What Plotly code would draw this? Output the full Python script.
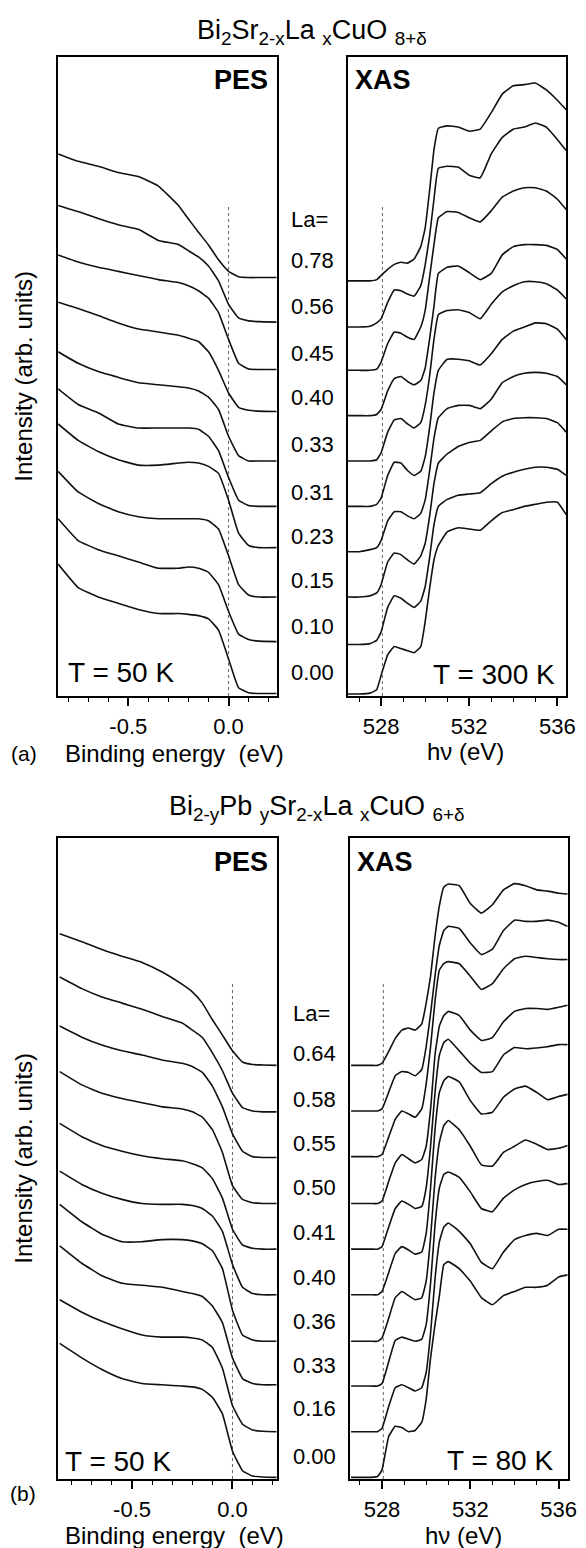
import plotly.graph_objects as go

# ---------------- data (arbitrary intensity units) ----------------
# (a) Bi2Sr2-xLaxCuO8+d  -- PES, T = 50 K
pes_a_energy = [-0.85, -0.75, -0.65, -0.55, -0.45, -0.35, -0.25, -0.20, -0.15, -0.10, -0.05, 0.00, 0.05, 0.10, 0.15, 0.24]
pes_a_la = ["0.78", "0.56", "0.45", "0.40", "0.33", "0.31", "0.23", "0.15", "0.10", "0.00"]
pes_a_078 = [131.5, 129.7, 128.5, 127.0, 126.0, 123.7, 119.0, 115.7, 112.5, 109.4, 105.8, 103.0, 101.7, 101.5, 101.5, 101.5]
pes_a_056 = [119.0, 117.5, 115.8, 114.3, 113.2, 110.5, 109.5, 108.0, 106.5, 104.3, 100.7, 95.0, 91.7, 91.0, 90.8, 90.7]
pes_a_045 = [107.0, 105.3, 104.0, 103.0, 102.0, 101.0, 100.3, 99.5, 98.3, 96.5, 93.0, 86.5, 80.7, 79.3, 79.2, 79.2]
pes_a_040 = [95.5, 94.0, 92.3, 90.5, 89.0, 88.3, 87.5, 86.8, 86.0, 83.5, 79.0, 73.5, 70.0, 69.3, 69.1, 69.0]
pes_a_033 = [83.5, 80.7, 78.7, 77.3, 76.0, 75.5, 75.0, 74.7, 74.0, 72.5, 69.5, 63.0, 58.3, 57.0, 57.0, 57.0]
pes_a_031 = [74.5, 70.7, 68.7, 66.0, 65.0, 65.0, 65.0, 65.0, 64.7, 63.0, 59.5, 53.0, 47.5, 46.2, 46.0, 46.0]
pes_a_023 = [66.0, 62.0, 59.3, 57.3, 56.0, 56.0, 56.5, 56.7, 56.5, 55.7, 54.0, 47.5, 39.5, 36.5, 36.0, 36.0]
pes_a_015 = [54.5, 49.5, 46.7, 44.7, 43.5, 43.0, 43.0, 43.0, 43.0, 42.5, 40.5, 34.0, 27.0, 24.5, 24.0, 24.0]
pes_a_010 = [43.0, 37.7, 35.5, 34.0, 32.5, 31.0, 31.0, 31.3, 31.0, 30.0, 27.0, 20.5, 15.0, 13.7, 13.3, 13.2]
pes_a_000 = [32.0, 26.3, 24.0, 22.5, 21.0, 20.0, 20.0, 19.8, 19.5, 18.7, 16.0, 9.0, 2.0, 0.8, 0.6, 0.6]

# (a) XAS, T = 300 K
xas_a_energy = [526.5, 527.0, 527.5, 527.8, 528.0, 528.3, 528.6, 528.9, 529.2, 529.5, 529.8, 530.0, 530.2, 530.4,
                530.6, 531.0, 531.5, 532.0, 532.5, 533.0, 533.5, 534.0, 534.5, 535.0, 535.5, 536.0, 536.4]
xas_a_078 = [100.7, 100.7, 100.7, 101.0, 102.0, 103.5, 104.7, 105.2, 105.0, 106.0, 109.0, 113.5, 122.5, 132.5,
             137.7, 138.3, 138.0, 137.0, 137.5, 141.5, 146.0, 148.0, 148.3, 148.7, 147.0, 144.5, 142.2]
xas_a_056 = [89.5, 89.5, 89.7, 90.5, 91.5, 95.5, 98.5, 98.3, 97.5, 97.0, 99.5, 104.5, 111.5, 120.5,
             128.0, 128.5, 128.3, 126.3, 125.7, 131.5, 135.5, 137.5, 138.0, 139.0, 138.0, 135.0, 132.3]
xas_a_045 = [79.0, 79.0, 79.0, 79.3, 81.0, 85.5, 88.3, 88.0, 87.0, 86.5, 89.5, 93.5, 101.5, 109.5,
             116.0, 117.5, 117.3, 116.0, 115.0, 117.7, 121.0, 122.5, 123.3, 123.3, 122.5, 120.5, 118.0]
xas_a_040 = [68.0, 68.0, 68.0, 68.3, 69.5, 74.0, 77.0, 77.5, 76.3, 75.5, 76.5, 79.5, 86.5, 94.5,
             102.5, 104.0, 104.3, 102.7, 101.0, 102.5, 107.0, 109.0, 109.5, 109.5, 109.3, 108.3, 106.0]
xas_a_033 = [57.0, 57.0, 57.0, 57.3, 59.0, 64.0, 67.0, 67.3, 66.0, 65.0, 66.3, 70.5, 77.5, 86.5,
             92.5, 93.5, 93.7, 93.0, 91.5, 95.0, 98.0, 99.5, 100.5, 100.5, 100.0, 98.5, 96.3]
xas_a_031 = [46.0, 46.0, 46.0, 46.5, 48.0, 53.5, 56.7, 56.5, 54.7, 53.5, 54.5, 58.0, 65.0, 73.5,
             79.0, 81.7, 81.7, 81.3, 80.3, 83.0, 86.5, 88.5, 89.5, 90.5, 90.3, 89.0, 86.5]
xas_a_023 = [35.0, 35.0, 35.5, 36.0, 37.7, 42.5, 44.7, 44.7, 43.7, 43.0, 44.3, 47.5, 54.5, 62.5,
             67.5, 69.7, 70.5, 70.5, 69.7, 72.0, 76.0, 77.5, 78.3, 78.5, 78.3, 77.5, 75.5]
xas_a_015 = [24.0, 24.0, 24.3, 25.0, 27.0, 32.5, 34.7, 34.3, 33.0, 32.0, 34.0, 37.0, 43.5, 51.5,
             56.5, 58.7, 60.5, 61.5, 62.0, 64.3, 66.5, 67.3, 67.5, 67.5, 67.3, 66.3, 64.0]
xas_a_010 = [12.5, 12.5, 12.7, 13.5, 15.5, 21.5, 24.3, 23.7, 22.5, 21.5, 23.0, 26.5, 33.5, 41.5,
             46.0, 47.7, 48.7, 49.0, 49.3, 51.5, 53.3, 54.3, 55.0, 55.5, 55.5, 55.0, 53.5]
xas_a_000 = [0.5, 0.5, 0.7, 1.5, 5.0, 10.0, 12.0, 11.5, 11.0, 10.5, 12.0, 18.0, 26.0, 33.0,
             36.5, 39.8, 40.8, 40.5, 40.2, 42.5, 44.5, 45.2, 46.0, 46.5, 47.0, 47.0, 44.0]

# (b) Bi2-yPbySr2-xLaxCuO6+d -- PES, T = 50 K
pes_b_energy = [-0.86, -0.75, -0.65, -0.55, -0.45, -0.35, -0.25, -0.20, -0.15, -0.10, -0.05, 0.00, 0.05, 0.10, 0.15, 0.22]
pes_b_la = ["0.64", "0.58", "0.55", "0.50", "0.41", "0.40", "0.36", "0.33", "0.16", "0.00"]
pes_b_064 = [131.4, 129.5, 127.6, 126.0, 124.5, 122.2, 119.2, 117.4, 114.7, 110.7, 107.0, 103.2, 100.5, 99.9, 99.8, 99.7]
pes_b_058 = [121.0, 118.2, 116.2, 114.7, 113.2, 111.5, 109.9, 108.2, 106.4, 102.7, 98.4, 93.0, 89.5, 88.7, 88.5, 88.5]
pes_b_055 = [109.2, 106.5, 104.6, 103.2, 102.2, 101.0, 100.2, 99.4, 98.0, 94.7, 89.7, 83.2, 79.0, 77.7, 77.5, 77.5]
pes_b_050 = [98.2, 95.0, 93.0, 91.7, 90.7, 89.7, 89.2, 88.5, 87.2, 84.2, 78.7, 70.7, 67.4, 66.6, 66.4, 66.4]
pes_b_041 = [85.7, 82.5, 80.4, 79.0, 77.9, 77.2, 76.7, 76.0, 75.0, 72.4, 67.7, 60.2, 56.4, 55.6, 55.4, 55.4]
pes_b_040 = [74.2, 71.0, 68.9, 67.4, 66.4, 66.2, 66.2, 65.9, 65.2, 63.4, 59.7, 51.7, 46.2, 44.7, 44.4, 44.4]
pes_b_036 = [66.2, 62.0, 59.0, 57.2, 57.2, 57.7, 57.7, 57.4, 56.7, 55.0, 50.7, 40.7, 34.7, 33.5, 33.2, 33.2]
pes_b_033 = [56.2, 52.0, 49.0, 47.2, 46.7, 46.2, 45.2, 44.7, 44.0, 41.7, 37.7, 29.2, 24.2, 23.0, 22.7, 22.7]
pes_b_016 = [43.2, 40.2, 38.0, 36.2, 34.7, 34.2, 34.2, 34.0, 33.5, 31.7, 26.7, 17.7, 13.2, 11.8, 11.5, 11.4]
pes_b_000 = [32.7, 29.2, 26.4, 24.2, 23.0, 22.7, 22.4, 22.2, 21.6, 19.7, 15.7, 6.7, 2.0, 0.7, 0.5, 0.4]

# (b) XAS, T = 80 K
xas_b_energy = [526.6, 527.0, 527.5, 527.8, 528.0, 528.3, 528.6, 528.9, 529.2, 529.5, 529.8, 530.0, 530.2, 530.4,
                530.6, 530.8, 531.0, 531.5, 532.0, 532.5, 533.0, 533.5, 534.0, 534.5, 535.0, 535.5, 536.0, 536.4]
xas_b_064 = [99.7, 99.7, 99.7, 99.7, 100.2, 103.0, 106.2, 108.2, 108.7, 108.2, 109.7, 114.7, 121.2, 130.7,
             138.2, 142.7, 143.4, 143.0, 138.7, 136.4, 138.4, 142.0, 143.5, 143.0, 142.0, 141.7, 141.2, 141.0]
xas_b_058 = [88.7, 88.7, 88.7, 88.7, 89.2, 93.2, 97.2, 98.2, 98.0, 97.2, 98.7, 104.2, 112.2, 121.2,
             128.7, 132.2, 133.2, 132.7, 129.2, 126.4, 127.7, 132.2, 134.7, 134.4, 134.4, 134.7, 134.2, 133.2]
xas_b_055 = [77.7, 77.7, 77.7, 77.7, 78.2, 82.4, 86.7, 88.7, 88.0, 87.2, 89.2, 95.2, 104.2, 115.2,
             122.7, 124.2, 124.7, 124.2, 121.2, 118.0, 119.4, 123.0, 125.4, 126.0, 125.7, 125.4, 125.2, 125.2]
xas_b_050 = [66.4, 66.4, 66.4, 66.4, 67.0, 71.7, 76.2, 78.2, 77.2, 76.2, 77.0, 80.2, 89.2, 102.2,
             109.2, 111.7, 112.7, 111.7, 108.2, 105.7, 106.4, 110.2, 112.7, 113.4, 113.4, 113.2, 113.7, 114.2]
xas_b_041 = [55.4, 55.4, 55.4, 55.4, 56.0, 60.7, 65.2, 67.0, 66.2, 65.2, 65.7, 70.2, 80.2, 93.2,
             102.2, 105.2, 106.0, 103.2, 100.2, 98.0, 98.2, 102.2, 104.0, 103.7, 103.9, 104.2, 104.7, 104.7]
xas_b_040 = [44.4, 44.4, 44.4, 44.4, 45.2, 49.7, 54.4, 56.0, 55.2, 54.2, 54.7, 59.2, 70.2, 84.2,
             93.2, 96.0, 97.0, 95.7, 91.2, 88.0, 88.4, 92.0, 94.0, 94.7, 93.2, 91.4, 92.2, 92.7]
xas_b_036 = [33.2, 33.2, 33.2, 33.2, 34.0, 38.7, 43.7, 45.2, 44.2, 43.2, 43.7, 47.7, 58.2, 72.2,
             81.2, 85.2, 86.4, 84.2, 80.2, 75.7, 75.4, 78.7, 80.2, 81.7, 80.7, 79.4, 79.7, 80.4]
xas_b_033 = [22.4, 22.4, 22.4, 22.4, 23.0, 28.2, 33.4, 34.2, 33.7, 33.2, 33.7, 37.2, 47.2, 61.2,
             70.2, 73.4, 74.0, 72.7, 69.2, 65.2, 64.4, 67.7, 69.7, 71.0, 71.7, 72.0, 71.0, 71.2]
xas_b_016 = [11.4, 11.4, 11.4, 11.4, 12.2, 17.4, 22.0, 22.7, 22.0, 21.2, 22.0, 25.7, 35.2, 48.2,
             57.2, 60.7, 61.7, 59.7, 56.7, 52.2, 50.7, 54.7, 57.7, 58.7, 59.2, 58.7, 60.2, 60.2]
xas_b_000 = [0.4, 0.4, 0.4, 0.6, 2.2, 10.2, 12.7, 12.4, 11.4, 11.7, 13.7, 19.2, 29.2, 37.2,
             44.2, 51.7, 52.4, 50.7, 47.7, 43.7, 42.0, 44.2, 45.2, 46.2, 46.2, 46.7, 48.7, 49.2]

# reference (dotted) lines: x position and height
pes_ref_x = 0.0
xas_ref_x = 528.06
ref_a_top = 119.0
ref_b_top = 119.7

# ---------------- figure ----------------
W, H = 586, 1548
FONT = "Liberation Sans, Arial, Helvetica, sans-serif"
LINE = dict(color="#111111", width=1.6)

fig = go.Figure()

panels = [
    ("x", "y", pes_a_energy, [pes_a_078, pes_a_056, pes_a_045, pes_a_040, pes_a_033,
                              pes_a_031, pes_a_023, pes_a_015, pes_a_010, pes_a_000], pes_ref_x, ref_a_top),
    ("x2", "y2", xas_a_energy, [xas_a_078, xas_a_056, xas_a_045, xas_a_040, xas_a_033,
                                xas_a_031, xas_a_023, xas_a_015, xas_a_010, xas_a_000], xas_ref_x, ref_a_top),
    ("x3", "y3", pes_b_energy, [pes_b_064, pes_b_058, pes_b_055, pes_b_050, pes_b_041,
                                pes_b_040, pes_b_036, pes_b_033, pes_b_016, pes_b_000], pes_ref_x, ref_b_top),
    ("x4", "y4", xas_b_energy, [xas_b_064, xas_b_058, xas_b_055, xas_b_050, xas_b_041,
                                xas_b_040, xas_b_036, xas_b_033, xas_b_016, xas_b_000], xas_ref_x, ref_b_top),
]

for xa, ya, xs, curves, refx, reftop in panels:
    fig.add_trace(go.Scatter(x=[refx, refx], y=[0, reftop], xaxis=xa, yaxis=ya, mode="lines",
                             line=dict(color="#666666", width=1, dash="dot"), hoverinfo="skip"))
    for c in curves:
        fig.add_trace(go.Scatter(x=xs, y=c, xaxis=xa, yaxis=ya, mode="lines",
                                 line=dict(shape="spline", smoothing=0.35, **LINE), hoverinfo="skip"))


def dom_x(l, r):
    return [l / W, r / W]


def dom_y(top, bottom):
    return [1 - bottom / H, 1 - top / H]


def xax(domain, rng, anchor, tickvals, ticktext, minor_dtick, minor_tick0):
    return dict(domain=domain, range=rng, anchor=anchor, showline=True, mirror=True,
                linecolor="black", linewidth=1.6, ticks="outside", ticklen=8, tickwidth=1.5,
                tickcolor="black", showgrid=False, zeroline=False, tickmode="array",
                tickvals=tickvals, ticktext=ticktext, ticklabelstandoff=2,
                tickfont=dict(size=22, family=FONT, color="black"),
                minor=dict(ticks="outside", ticklen=4, tickwidth=1.2, tickcolor="black",
                           tickmode="linear", dtick=minor_dtick, tick0=minor_tick0, showgrid=False))


def yax(domain, rng, anchor):
    return dict(domain=domain, range=rng, anchor=anchor, showline=True, mirror=True,
                linecolor="black", linewidth=1.6, ticks="", showticklabels=False,
                showgrid=False, zeroline=False)


ya_dom = dom_y(57, 696)
yb_dom = dom_y(838, 1479)

fig.update_layout(
    width=W, height=H, margin=dict(l=0, r=0, t=0, b=0),
    paper_bgcolor="white", plot_bgcolor="white", showlegend=False,
    xaxis=xax(dom_x(59, 281), [-0.85, 0.24], "y", [-0.5, 0.0], ["-0.5", "0.0"], 0.1, 0.0),
    yaxis=yax(ya_dom, [0, 155], "x"),
    xaxis2=xax(dom_x(353, 575), [526.48, 536.4], "y2", [528, 532, 536], ["528", "532", "536"], 1, 528),
    yaxis2=yax(ya_dom, [0, 155], "x2"),
    xaxis3=xax(dom_x(59, 281), [-0.868, 0.22], "y3", [-0.5, 0.0], ["-0.5", "0.0"], 0.1, 0.0),
    yaxis3=yax(yb_dom, [0, 154.5], "x3"),
    xaxis4=xax(dom_x(355, 577), [526.53, 536.43], "y4", [528, 532, 536], ["528", "532", "536"], 1, 528),
    yaxis4=yax(yb_dom, [0, 154.5], "x4"),
)


def ann(text, x, y, size, xanchor="center", yanchor="middle", bold=False, angle=0):
    t = "<b>%s</b>" % text if bold else text
    return dict(text=t, x=x / W, y=1 - y / H, xref="paper", yref="paper", showarrow=False,
                xanchor=xanchor, yanchor=yanchor, textangle=angle,
                font=dict(size=size, family=FONT, color="black"))


anns = []
# titles
anns.append(ann("Bi<sub>2</sub>Sr<sub>2-x</sub>La <sub>x</sub>CuO <sub>8+δ</sub>", 317, 32, 27))
anns.append(ann("Bi<sub>2-y</sub>Pb <sub>y</sub>Sr<sub>2-x</sub>La <sub>x</sub>CuO <sub>6+δ</sub>", 322, 808, 27))
# panel labels
for yoff in (0, 782):
    anns.append(ann("PES", 274, 80 + yoff, 27, xanchor="right", bold=True))
anns.append(ann("XAS", 359, 80, 27, xanchor="left", bold=True))
anns.append(ann("XAS", 361, 862, 27, xanchor="left", bold=True))
anns.append(ann("T = 50 K", 67, 672, 28, xanchor="left"))
anns.append(ann("T = 300 K", 566, 674, 28, xanchor="right"))
anns.append(ann("T = 50 K", 64, 1461, 28, xanchor="left"))
anns.append(ann("T = 80 K", 564, 1460, 28, xanchor="right"))
# axis titles
anns.append(ann("Binding energy\u00a0 (eV)", 177, 753, 24))
anns.append(ann("hν (eV)", 473, 751, 24))
anns.append(ann("(a)", 24, 753, 21))
anns.append(ann("Binding energy\u00a0 (eV)", 177, 1535, 24))
anns.append(ann("hν (eV)", 471, 1535, 24))
anns.append(ann("(b)", 23, 1493, 21))
anns.append(ann("Intensity (arb. units)", 23, 376, 24, angle=-90))
anns.append(ann("Intensity (arb. units)", 23, 1158, 24, angle=-90))

# La labels
la_a_y = [260, 306, 354, 398, 445, 492, 536, 581, 626, 672]
anns.append(ann("La=", 293, 219, 22, xanchor="left"))
for lab, yy in zip(pes_a_la, la_a_y):
    anns.append(ann(lab, 293, yy, 22, xanchor="left"))
la_b_y = [1053, 1099, 1143, 1187, 1232, 1277, 1321, 1365, 1408, 1456]
anns.append(ann("La=", 296, 1013, 22, xanchor="left"))
for lab, yy in zip(pes_b_la, la_b_y):
    anns.append(ann(lab, 296, yy, 22, xanchor="left"))

fig.update_layout(annotations=anns)
fig.write_html("out.html")
